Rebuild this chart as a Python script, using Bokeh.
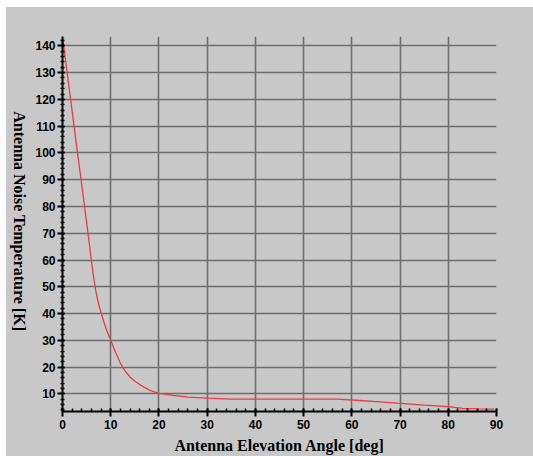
import math
from bokeh.plotting import figure
from bokeh.models import Range1d, FixedTicker, Spacer
from bokeh.layouts import column, row
from bokeh.core.properties import value
from bokeh.embed import file_html
from bokeh.resources import INLINE

# Data
elevation_deg = [0, 1, 2, 3, 4, 5, 5.5, 6, 6.5, 7, 7.5, 8, 8.5, 9, 9.5, 10, 11, 12, 13, 14,
                 15, 16, 17, 18, 19, 20, 23, 26, 30, 35, 40, 45, 50, 57, 61, 65, 69.5, 75,
                 80, 83, 86, 89.5]
noise_temp_k = [143.5, 129.5, 115.5, 101.5, 88, 74, 67, 59.5, 53, 47.5, 43.5, 40.3, 37.3,
                34.6, 32.2, 30, 25.5, 21.5, 18.5, 16.3, 14.7, 13.5, 12.4, 11.4, 10.7, 10.2,
                9.4, 8.8, 8.4, 8.0, 8.0, 8.0, 8.0, 8.0, 7.6, 7.1, 6.5, 5.8, 5.2, 4.6, 4.4,
                4.3]
x_ticks = [0, 10, 20, 30, 40, 50, 60, 70, 80, 90]
y_ticks = [10, 20, 30, 40, 50, 60, 70, 80, 90, 100, 110, 120, 130, 140]
x_label = "Antenna Elevation Angle [deg]"
y_label = "Antenna Noise Temperature  [K]"

BG = "#c8c8c8"
GRID = "#6e6e6e"

p = figure(width=503, height=449, output_backend="svg", toolbar_location=None,
           x_range=Range1d(0, 90), y_range=Range1d(3.4, 143.5),
           min_border_left=32, min_border_right=37, min_border_top=29, min_border_bottom=44,
           background_fill_color=BG, border_fill_color=BG, outline_line_color=None)

p.line(elevation_deg, noise_temp_k, line_color="#ec3a40", line_width=1.3)

p.xaxis.ticker = FixedTicker(ticks=x_ticks,
                             minor_ticks=[t for t in range(0, 91, 2)])
p.yaxis.ticker = FixedTicker(ticks=y_ticks,
                             minor_ticks=[t for t in range(4, 144, 2)])

for ax in (p.xaxis[0], p.yaxis[0]):
    ax.axis_line_color = "black"
    ax.axis_line_width = 2
    ax.major_tick_line_color = "black"
    ax.major_tick_line_width = 2
    ax.minor_tick_line_color = "black"
    ax.minor_tick_line_width = 1.5
    ax.major_label_text_font = "Liberation Sans"
    ax.major_label_text_font_style = "bold"
    ax.major_label_text_font_size = "12px"
    ax.major_label_text_color = "black"
    ax.axis_label_text_font = "Liberation Serif"
    ax.axis_label_text_font_style = "bold"
    ax.axis_label_text_font_size = "16px"
    ax.axis_label_text_color = "black"
    ax.major_label_standoff = 3
    ax.axis_label_standoff = 5

p.xaxis.axis_label = x_label
p.yaxis.major_label_standoff = 2

p.xaxis.major_tick_out = 5
p.xaxis.major_tick_in = 3
p.xaxis.minor_tick_out = 0
p.xaxis.minor_tick_in = 3
p.yaxis.major_tick_out = 5
p.yaxis.major_tick_in = 2
p.yaxis.minor_tick_out = 2
p.yaxis.minor_tick_in = 2

p.xgrid.grid_line_color = GRID
p.xgrid.grid_line_width = 1.6
p.ygrid.grid_line_color = GRID
p.ygrid.grid_line_width = 1.6

# narrow panel holding the y-axis title, which reads top-to-bottom
lab = figure(width=24, height=449, output_backend="svg", toolbar_location=None,
             x_range=Range1d(0, 1), y_range=Range1d(0, 1),
             x_axis_type=None, y_axis_type=None,
             min_border_left=0, min_border_right=0, min_border_top=0, min_border_bottom=0,
             background_fill_color=BG, border_fill_color=BG, outline_line_color=None)
lab.xgrid.visible = False
lab.ygrid.visible = False
lab.text(x=[0.54], y=[0.502], text=[y_label], angle=-math.pi / 2,
         text_align="center", text_baseline="middle",
         text_font=value("Liberation Serif"), text_font_style="bold",
         text_font_size="16px", text_color="black")

inner = row(lab, p, spacing=0, styles={"background-color": BG})
layout = column(Spacer(height=7), row(Spacer(width=6), inner, spacing=0), spacing=0)

open("out.html", "w").write(file_html(layout, INLINE))
